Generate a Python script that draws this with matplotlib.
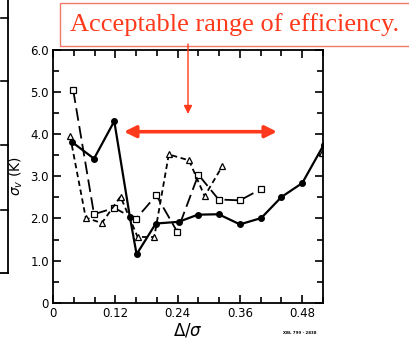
import matplotlib
matplotlib.use('Agg')
import matplotlib.pyplot as plt
from matplotlib.lines import Line2D
from matplotlib.patches import Rectangle, FancyArrowPatch
from matplotlib.ticker import MultipleLocator

# series
x_filled = [0.036, 0.079, 0.118, 0.148, 0.161, 0.198, 0.242, 0.279, 0.319, 0.360, 0.401, 0.440, 0.480, 0.521]
y_filled = [3.82, 3.42, 4.31, 2.04, 1.15, 1.88, 1.92, 2.09, 2.10, 1.86, 2.01, 2.51, 2.84, 3.74]

x_square = [0.039, 0.079, 0.118, 0.159, 0.199, 0.239, 0.280, 0.319, 0.360, 0.401]
y_square = [5.04, 2.10, 2.25, 1.98, 2.55, 1.69, 3.04, 2.45, 2.43, 2.70]

x_tri = [0.033, 0.063, 0.094, 0.130, 0.163, 0.195, 0.223, 0.262, 0.292, 0.326]
y_tri = [3.95, 2.02, 1.89, 2.52, 1.56, 1.56, 3.52, 3.38, 2.53, 3.24]

x_ticks = [0, 0.12, 0.24, 0.36, 0.48]
x_ticklabels = ['0', '0.12', '0.24', '0.36', '0.48']
y_ticks = [0, 1, 2, 3, 4, 5, 6]
y_ticklabels = ['0', '1.0', '2.0', '3.0', '4.0', '5.0', '6.0']

W, H = 409, 341
red = '#ff3a1c'

fig = plt.figure(figsize=(W / 100, H / 100), dpi=100)
ax = fig.add_axes([53 / W, 38.3 / H, 270 / W, 252.7 / H])

ax.plot(x_filled, y_filled, color='black', lw=1.6, marker='o', ms=4, mfc='black', zorder=3)
ax.plot(x_square, y_square, color='black', lw=1.3, ls=(0, (7, 3)), marker='s', ms=4,
        mfc='white', mew=0.9, zorder=2)
ax.plot(x_tri, y_tri, color='black', lw=1.3, ls=(0, (3, 2)), marker='^', ms=5,
        mfc='white', mew=0.9, zorder=2)
# lone triangle hidden under last filled point
ax.plot([0.519], [3.56], marker='^', ms=5, mfc='white', mec='black', mew=0.9, ls='none', zorder=2)

ax.set_xlim(0, 0.52)
ax.set_ylim(0, 6)
ax.set_xticks(x_ticks)
ax.set_xticklabels(x_ticklabels)
ax.set_yticks(y_ticks)
ax.set_yticklabels(y_ticklabels)
ax.xaxis.set_minor_locator(MultipleLocator(0.04))
ax.yaxis.set_minor_locator(MultipleLocator(0.5))
ax.tick_params(which='both', direction='in', top=True, right=True, width=1.2, labelsize=8.5, pad=3)
ax.tick_params(which='major', length=6)
ax.tick_params(which='minor', length=4)
for s in ax.spines.values():
    s.set_linewidth(1.3)

ax.set_xlabel(r'$\Delta/\sigma$', fontsize=12, labelpad=1)
ax.set_ylabel(r'$\sigma_v$ (K)', fontsize=10, labelpad=4)

fig.text(300 / W, 1 - 333 / H, 'XBL 799 - 2838', fontsize=2.8, fontweight='bold',
         ha='center', va='center')

# annotation box
fig.add_artist(Rectangle((60 / W, 1 - 46 / H), 360 / W, 43 / H, transform=fig.transFigure,
                         fill=False, edgecolor='#f07a66', lw=1.0))
fig.text(70 / W, 1 - 25 / H, 'Acceptable range of efficiency.', fontsize=19,
         family='Liberation Serif', color=red, va='center', ha='left')

# arrows
fig.add_artist(FancyArrowPatch((188 / W, 1 - 44 / H), (188 / W, 1 - 114 / H),
                               transform=fig.transFigure, arrowstyle='-|>,head_length=5,head_width=2.5',
                               color=red, lw=1.0, shrinkA=0, shrinkB=0))
fig.add_artist(FancyArrowPatch((124 / W, 1 - 131.7 / H), (277 / W, 1 - 131.7 / H),
                               transform=fig.transFigure, arrowstyle='<|-|>,head_length=7,head_width=3.5',
                               color=red, lw=2.6, shrinkA=0, shrinkB=0))

# edge of neighbouring panel on the left
fig.add_artist(Line2D([8 / W, 8 / W], [1, 1 - 273 / H], transform=fig.transFigure, color='black', lw=1.3))
fig.add_artist(Line2D([0, 8 / W], [1 - 273 / H, 1 - 273 / H], transform=fig.transFigure, color='black', lw=1.3))
for ty in [18, 81, 145, 210]:
    fig.add_artist(Line2D([1 / W, 8 / W], [1 - ty / H, 1 - ty / H], transform=fig.transFigure,
                          color='black', lw=1.2))

fig.savefig('out.png', dpi=100)
